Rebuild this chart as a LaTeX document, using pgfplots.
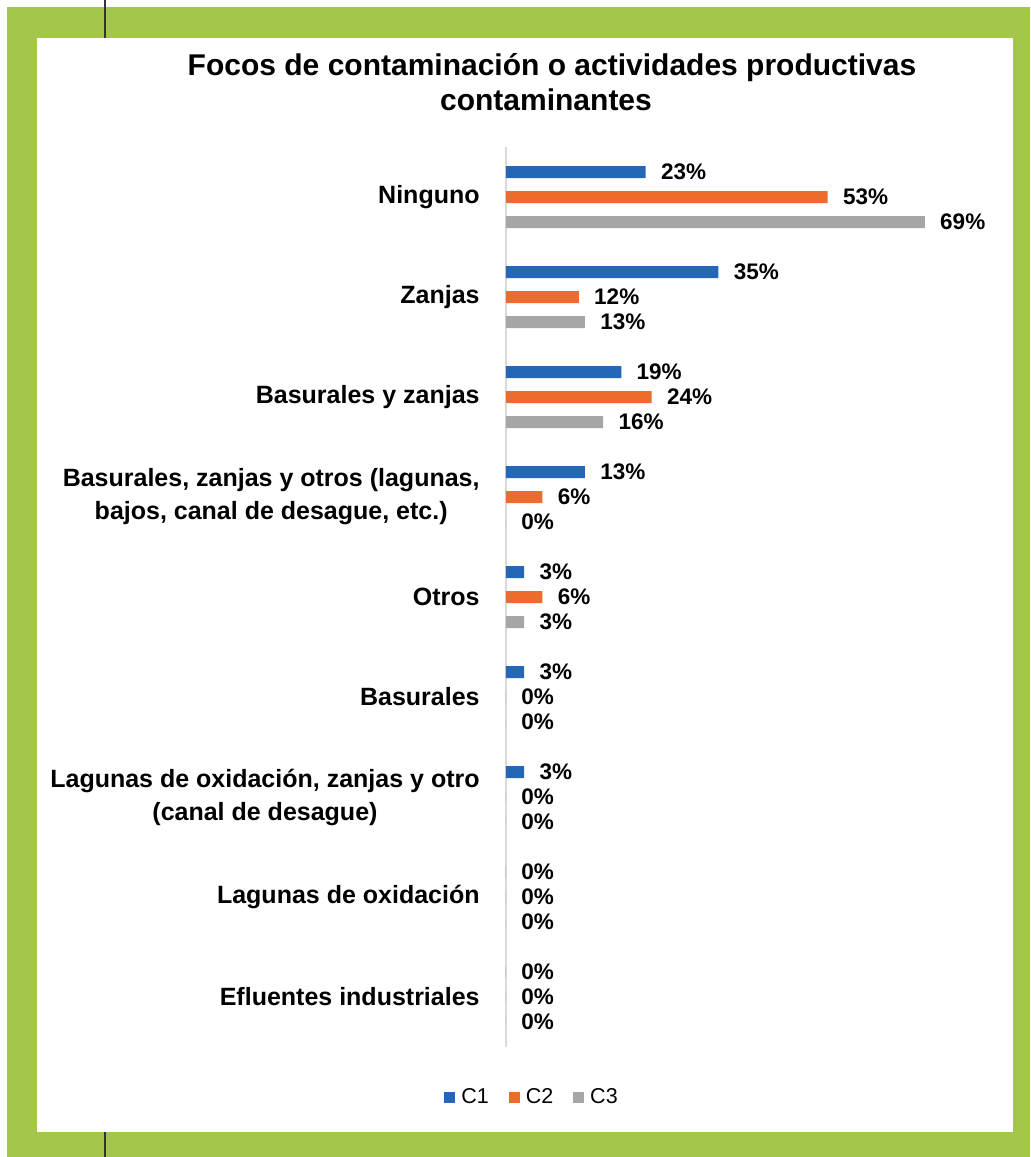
\documentclass[border=0pt]{standalone}
\usepackage{fontspec}
\setmainfont{Liberation Sans}
\usepackage{pgfplots}
\pgfplotsset{compat=1.18}
\definecolor{cgreen}{HTML}{A3C64B}
\definecolor{cone}{HTML}{2467B6}
\definecolor{ctwo}{HTML}{EC6B2D}
\definecolor{cthree}{HTML}{A6A6A6}
\definecolor{caxis}{HTML}{D9D9D9}
\begin{document}
\begin{tikzpicture}
\useasboundingbox (0,0) rectangle (515pt,-578.5pt);
\fill[white] (0,0) rectangle (515pt,-578.5pt);
\fill[cgreen] (3.5pt,-3.5pt) rectangle (515pt,-578.5pt);
\fill[white] (18.5pt,-19pt) rectangle (506.5pt,-566pt);
\draw[line width=1pt, black!80] (52.5pt,0) -- (52.5pt,-19pt);
\draw[line width=1pt, black!80] (52.5pt,-566pt) -- (52.5pt,-578.5pt);
\node[anchor=base, inner sep=0pt, font=\bfseries\fontsize{15}{18}\selectfont] at (276pt,-37.5pt) {Focos de contaminación o actividades productivas};
\node[anchor=base, inner sep=0pt, font=\bfseries\fontsize{15}{18}\selectfont] at (273pt,-55pt) {contaminantes};
\begin{axis}[
  at={(253pt,-523.5pt)}, anchor=south west,
  scale only axis, width=242.8pt, height=450pt,
  xmin=0, xmax=80, ymin=-0.5, ymax=8.5,
  clip=false,
  axis x line=none, axis y line*=left,
  y axis line style={draw=caxis, line width=0.8pt},
  xtick=\empty,
  ytick={0,1,2,3,4,5,6,7,8},
  yticklabels={{Efluentes industriales},{Lagunas de oxidación},{Lagunas de oxidación, zanjas y otro\\(canal de desague)},{Basurales},{Otros},{Basurales, zanjas y otros (lagunas,\\bajos, canal de desague, etc.)},{Basurales y zanjas},{Zanjas},{Ninguno}},
  ytick style={draw=none},
  major tick length=0pt,
  yticklabel style={font=\bfseries\fontsize{12.5}{16.5}\selectfont, align=center, inner sep=0pt, xshift=-13pt},
  xbar, bar width=6pt, bar shift=0pt,
  point meta=x,
  /pgf/number format/assume math mode=true,
  nodes near coords={\pgfmathprintnumber{\pgfplotspointmeta}\%},
  every node near coord/.append style={font=\bfseries\fontsize{11.25}{13}\selectfont, inner sep=0pt, anchor=west, xshift=7.5pt, text=black},
  legend columns=3,
  legend style={at={(0.0515,-0.0556)}, anchor=center, draw=none, fill=none,
    font=\fontsize{10.75}{12}\selectfont,
    nodes={inner sep=0pt},
    /tikz/every odd column/.append style={column sep=3pt},
    /tikz/every even column/.append style={column sep=10pt}},
]
\addplot[draw=none, fill=cone, legend image code/.code={\fill[cone] (0pt,-2.75pt) rectangle (5.5pt,2.75pt);}] coordinates {
  (23,8.25) (35,7.25) (19,6.25) (13,5.25) (3,4.25) (3,3.25) (3,2.25) (0,1.25) (0,0.25)};
\addplot[draw=none, fill=ctwo, legend image code/.code={\fill[ctwo] (0pt,-2.75pt) rectangle (5.5pt,2.75pt);}] coordinates {
  (53,8) (12,7) (24,6) (6,5) (6,4) (0,3) (0,2) (0,1) (0,0)};
\addplot[draw=none, fill=cthree, legend image code/.code={\fill[cthree] (0pt,-2.75pt) rectangle (5.5pt,2.75pt);}] coordinates {
  (69,7.75) (13,6.75) (16,5.75) (0,4.75) (3,3.75) (0,2.75) (0,1.75) (0,0.75) (0,-0.25)};
\legend{C1,C2,C3}
\end{axis}
\end{tikzpicture}
\end{document}
